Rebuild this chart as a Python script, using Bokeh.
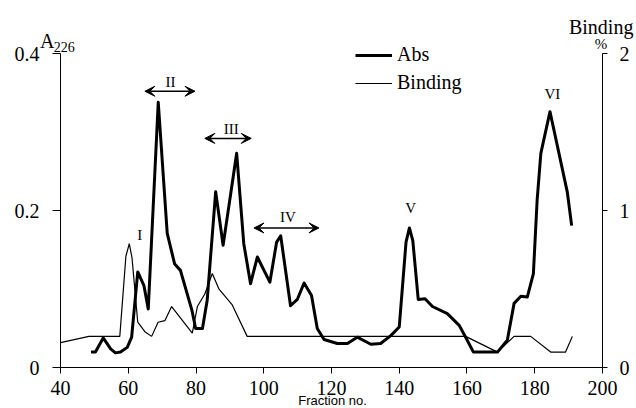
from bokeh.plotting import figure
from bokeh.models import (Range1d, LinearAxis, FixedTicker, Legend, Label, Arrow, VeeHead)
from bokeh.embed import file_html
from bokeh.resources import INLINE

# ---- data ----
abs_x = [49, 50.3, 52.6, 54.8, 56.2, 57.7, 59.7, 61, 62.8, 64.6,
         65.9, 68.85, 71.5, 73.7, 75.4, 78.8, 79.9, 81.9, 83.3, 85.8,
         88.0, 92, 94.1, 96.1, 98.1, 101.8, 103.8, 105, 107.9, 109.9,
         111.9, 114.1, 115.8, 117.8, 121.7, 124.7, 127.6, 131.6, 134.5, 137.5,
         140, 142, 143, 144, 145.6, 147.6, 149.8, 154.2, 157.7, 159.6,
         161.9, 169, 171.9, 173.9, 175.9, 177.8, 179.6, 180.7, 181.8, 184.5,
         189.6, 190.9]
abs_y = [0.02, 0.02, 0.038, 0.024, 0.019, 0.02, 0.026, 0.039, 0.122, 0.105,
         0.075, 0.338, 0.171, 0.132, 0.124, 0.073, 0.05, 0.05, 0.086, 0.224,
         0.156, 0.273, 0.158, 0.107, 0.141, 0.109, 0.16, 0.168, 0.079, 0.087,
         0.108, 0.092, 0.05, 0.036, 0.031, 0.031, 0.039, 0.030, 0.031, 0.041,
         0.052, 0.16, 0.178, 0.162, 0.087, 0.088, 0.078, 0.069, 0.054, 0.039,
         0.02, 0.02, 0.035, 0.082, 0.091, 0.09, 0.12, 0.213, 0.273, 0.326,
         0.224, 0.181]

bind_x = [40, 48.4, 57.5, 59.3, 60.3, 61.1, 62.8, 64.9, 66.9, 68.8,
          70.8, 72.8, 78.9, 80.4, 82.6, 84.8, 86.8, 90.7, 95.1, 159.6,
          169, 173.9, 178.8, 184.7, 189.1, 191.1]
bind_y = [0.16, 0.2, 0.2, 0.71, 0.79, 0.70, 0.29, 0.23, 0.2, 0.29,
          0.30, 0.39, 0.22, 0.39, 0.47, 0.6, 0.5, 0.4, 0.2, 0.2,
          0.1, 0.2, 0.2, 0.1, 0.1, 0.2]

x_ticks = [40, 60, 80, 100, 120, 140, 160, 180, 200]
left_ticks = [0, 0.2, 0.4]
left_labels = ["0", "0.2", "0.4"]
right_ticks = [0, 1, 2]
right_labels = ["0", "1", "2"]

# peak annotations: (text, x, y)
peak_labels = [("I", 63.4, 0.1686), ("II", 72.5, 0.3638), ("III", 90.4, 0.3045),
               ("IV", 107.1, 0.1919), ("V", 143.4, 0.2038), ("VI", 185.2, 0.348)]
# double-headed arrows: (x_start, x_end, y)
peak_arrows = [(64.9, 79.7, 0.352), (82.6, 96.3, 0.292), (97.1, 116.3, 0.178)]

SERIF = "Liberation Serif"

# the frame covers the whole canvas; axes are pinned at the data limits
# so that titles outside the data area are not clipped
X0, X1 = 22.28, 210.04
Y0, Y1 = -0.0518, 0.4675
R0, R1 = Y0 * 5, Y1 * 5

p = figure(width=636, height=408, output_backend="svg", toolbar_location=None,
           x_range=Range1d(X0, X1), y_range=Range1d(Y0, Y1),
           min_border=0, min_border_left=0, min_border_right=0,
           min_border_top=0, min_border_bottom=0,
           x_axis_location=None, y_axis_location=None)
p.extra_y_ranges = {"binding": Range1d(R0, R1)}
p.grid.visible = False
p.outline_line_color = None
p.background_fill_color = "white"
p.border_fill_color = "white"


def style_axis(ax, tick_out, standoff):
    ax.major_tick_out = tick_out
    ax.major_tick_in = 0
    ax.minor_tick_out = 0
    ax.minor_tick_in = 0
    ax.axis_line_color = "black"
    ax.axis_line_width = 1
    ax.major_tick_line_color = "black"
    ax.major_label_text_font = SERIF
    ax.major_label_text_font_size = "20px"
    ax.major_label_text_color = "black"
    ax.major_label_standoff = standoff


xaxis = LinearAxis(ticker=FixedTicker(ticks=x_ticks), bounds=(40, 200), fixed_location=0)
style_axis(xaxis, 6, 7)
p.add_layout(xaxis, "below")

yaxis = LinearAxis(ticker=FixedTicker(ticks=left_ticks), bounds=(0, 0.4), fixed_location=40,
                   major_label_overrides={t: l for t, l in zip(left_ticks, left_labels)})
style_axis(yaxis, 8, 13)
p.add_layout(yaxis, "left")

raxis = LinearAxis(y_range_name="binding", ticker=FixedTicker(ticks=right_ticks),
                   bounds=(0, 2), fixed_location=200,
                   major_label_overrides={t: l for t, l in zip(right_ticks, right_labels)})
style_axis(raxis, 5, 12)
p.add_layout(raxis, "right")

r_abs = p.line(abs_x, abs_y, line_color="black", line_width=3, line_join="round")
r_bind = p.line(bind_x, bind_y, line_color="black", line_width=1.2,
                y_range_name="binding")

legend = Legend(items=[("Abs", [r_abs]), ("Binding", [r_bind])], location=(355, 314),
                glyph_width=37, glyph_height=20, label_height=20, label_standoff=5,
                spacing=5, padding=0, margin=0, border_line_color=None,
                background_fill_alpha=0, label_text_font=SERIF,
                label_text_font_size="20px", label_text_color="black")
p.add_layout(legend, "center")

for txt, lx, ly in peak_labels:
    p.add_layout(Label(x=lx, y=ly, text=txt, text_font=SERIF, text_font_size="15px",
                       text_align="center", text_baseline="middle", text_color="black"))

for xs, xe, ya in peak_arrows:
    p.add_layout(Arrow(start=VeeHead(size=10, line_width=1, fill_color="black"),
                       end=VeeHead(size=10, line_width=1, fill_color="black"),
                       x_start=xs, y_start=ya, x_end=xe, y_end=ya,
                       line_width=1.5, line_color="black"))

# axis titles
p.add_layout(Label(x=33.95, y=0.416, text="A", text_font=SERIF, text_font_size="20px",
                   text_align="left", text_baseline="alphabetic", text_color="black"))
p.add_layout(Label(x=38.02, y=0.4084, text="226", text_font=SERIF, text_font_size="14px",
                   text_align="left", text_baseline="alphabetic", text_color="black"))
p.add_layout(Label(x=190.1, y=0.4335, text="Binding", text_font=SERIF, text_font_size="20px",
                   text_align="left", text_baseline="alphabetic", text_color="black"))
p.add_layout(Label(x=197.7, y=0.4118, text="%", text_font=SERIF, text_font_size="15px",
                   text_align="left", text_baseline="alphabetic", text_color="black"))
p.add_layout(Label(x=120.3, y=-0.0415, text="Fraction no.", text_font="Liberation Sans",
                   text_font_size="13px", text_align="center", text_baseline="middle",
                   text_color="black"))

open("out.html", "w").write(file_html(p, INLINE))
